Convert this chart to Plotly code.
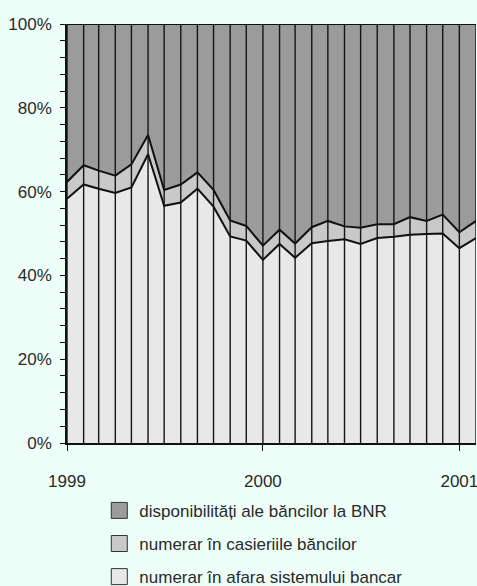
import pandas as pd
import plotly.graph_objects as go

# Monthly dates Jan 1999 .. Feb 2001
months = [d.strftime("%Y-%m-%d") for d in pd.date_range("1999-01-01", "2001-02-01", freq="MS")]

# cumulative shares (%)
share_outside = [58.3, 61.7, 60.7, 59.7, 61.0, 68.9, 56.6, 57.4, 60.7, 56.4, 49.3, 48.3, 43.7,
                 47.5, 44.2, 47.7, 48.2, 48.6, 47.5, 48.9, 49.2, 49.7, 49.9, 50.0, 46.5, 48.9]
share_cum_cash = [62.3, 66.3, 65.0, 63.8, 66.5, 73.5, 60.4, 61.7, 64.6, 60.4, 53.1, 51.8, 47.1,
                  50.9, 47.6, 51.5, 53.0, 51.7, 51.4, 52.2, 52.2, 53.9, 53.0, 54.5, 50.3, 53.0]

share_cash_banks = [round(c - o, 2) for c, o in zip(share_cum_cash, share_outside)]
share_bnr = [round(100 - c, 2) for c in share_cum_cash]

names = ["disponibilități ale băncilor la BNR",
         "numerar în casieriile băncilor",
         "numerar în afara sistemului bancar"]
colors = ["#9b9b9b", "#c9c9c9", "#e8e8e8"]

BG = "#EEFFFA"
FONT = "Liberation Sans, Arial, sans-serif"

fig = go.Figure()
series = [share_outside, share_cash_banks, share_bnr]
order = [2, 1, 0]
for vals, idx in zip(series, order):
    fig.add_trace(go.Scatter(
        x=months, y=vals, stackgroup="one", mode="lines",
        line=dict(color="#111111", width=2),
        fillcolor=colors[idx], showlegend=False, hoverinfo="skip"))

# legend entries
for i, (n, c) in enumerate(zip(names, colors)):
    fig.add_trace(go.Scatter(
        x=[None], y=[None], mode="markers", name=n, legendgroup=f"g{i}",
        marker=dict(symbol="square", size=16, color=c,
                    line=dict(color="#333333", width=1))))

# vertical monthly lines drawn over the areas
for m in months:
    fig.add_shape(type="line", xref="x", yref="paper", x0=m, x1=m, y0=0, y1=1,
                  line=dict(color="#151515", width=1.4), layer="above")

fig.update_layout(
    width=477, height=586,
    margin=dict(l=67, r=1, t=24, b=143, autoexpand=False),
    paper_bgcolor=BG, plot_bgcolor=BG,
    font=dict(family=FONT, size=17, color="#2a2a2a"),
    legend=dict(x=0.079, xanchor="left", y=-0.119, yanchor="top",
                traceorder="grouped", tracegroupgap=8,
                bgcolor="rgba(0,0,0,0)", font=dict(size=17)),
    xaxis=dict(type="date", range=["1999-01-01", "2001-02-01"],
               tickformat="%Y", dtick="M12", tick0="1999-01-01",
               ticks="outside", ticklen=6, tickcolor="#111", tickwidth=1.3,
               showgrid=False, zeroline=False, automargin=False,
               ticklabeloverflow="allow",
               showline=True, linecolor="#111", linewidth=1.5,
               ticklabelstandoff=16),
    yaxis=dict(range=[0, 100], dtick=20, ticksuffix="%",
               ticks="outside", ticklen=5, tickcolor="#111", tickwidth=1.3,
               minor=dict(dtick=4, ticks="outside", ticklen=5, tickcolor="#111", tickwidth=1.3),
               showgrid=False, zeroline=False, automargin=False,
               showline=True, linecolor="#111", linewidth=1.5,
               ticklabelstandoff=5),
)

fig.write_html("out.html",
               config={"displayModeBar": False},
               post_script="document.body.style.margin='0';document.body.style.background='" + BG + "';")
